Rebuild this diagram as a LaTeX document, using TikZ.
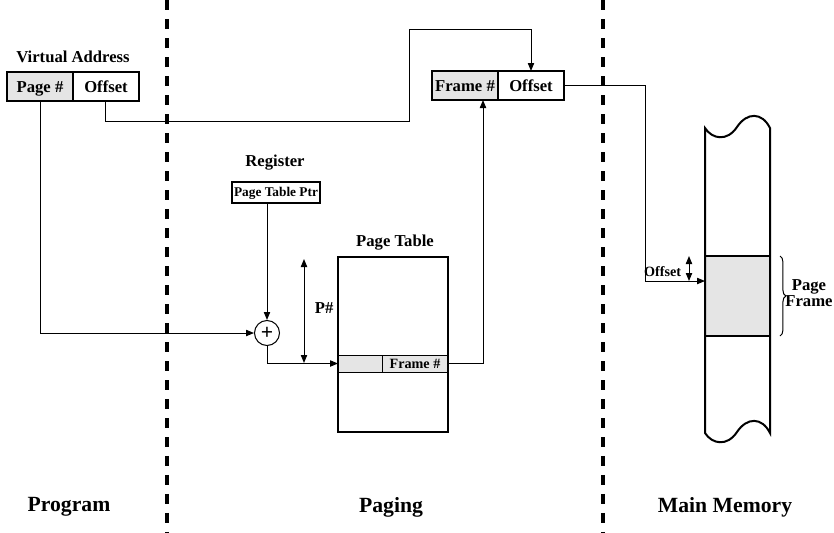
\documentclass[tikz,border=0pt]{standalone}
\usepackage{fontspec}
\setmainfont{Liberation Serif}
\usetikzlibrary{arrows.meta,positioning,decorations.pathreplacing}

\begin{document}
\begin{tikzpicture}[x=0.6pt,y=-0.6pt,
      font=\bfseries\fontsize{10}{12}\selectfont,
      cell/.style={draw, line width=0.8pt, minimum width=39.6pt, minimum height=17.4pt, inner sep=0pt, outer sep=0pt, text height=6.6pt, text depth=0pt},
      link/.style={line width=0.6pt, -{Triangle[length=4.8pt,width=3.8pt]}},
      both/.style={line width=0.6pt, {Triangle[length=4.8pt,width=3.8pt]}-{Triangle[length=4.8pt,width=3.8pt]}},
      divider/.style={line width=2.4pt, dash pattern=on 6pt off 5.4pt},
      small/.style={font=\bfseries\fontsize{8.5}{10}\selectfont},
      big/.style={font=\bfseries\fontsize{13}{15}\selectfont}]
      \useasboundingbox (0,0) rectangle (834,533);
      \draw[divider] (167,0) -- (167,533);
      \draw[divider] (603,0) -- (603,533);
      \node (vaddr) at (73,57) {Virtual Address};
      \node[cell, fill=gray!20] (vpage) at (40,86.5) {Page \#};
      \node[cell, right=0pt of vpage] (voff) {Offset};
      \node[cell, fill=gray!20] (fnum) at (465,85.5) {Frame \#};
      \node[cell, right=0pt of fnum] (foff) {Offset};
      \node (reglbl) at (275,163) {Register};
      \node[cell, font=\bfseries\fontsize{8}{10}\selectfont, text height=5.3pt, minimum width=52.8pt, minimum height=12.6pt] (reg) at (276,192.5) {Page Table Ptr};
      \node[draw, circle, line width=0.6pt, minimum size=15pt, inner sep=0pt, font=\bfseries\fontsize{13}{13}\selectfont] (plus) at (267,333) {+};
      \node[cell, fill=gray!20, line width=0.6pt, minimum width=26.4pt, minimum height=10.2pt] (rowl) at (360,363.5) {};
      \node[cell, small, text height=5.6pt, fill=gray!20, line width=0.6pt, minimum height=10.2pt, right=0pt of rowl] (rowr) {Frame \#};
      \node[draw, line width=1.2pt, minimum width=66pt, minimum height=105pt, inner sep=0pt, outer sep=0pt] (ptable) at (393,344.5) {};
      \node (ptlbl) at (395,243) {Page Table};
      \coordinate (ptop) at (304,259);
      \coordinate (pbot) at (304,363);
      \draw[both] (ptop) -- (pbot);
      \node[anchor=west] (plbl) at (309,308) {P\#};
      \node[draw, line width=1.2pt, fill=gray!20, minimum width=39pt, minimum height=48pt, inner sep=0pt, outer sep=0pt] (pframe) at (737.5,296) {};
      \draw[line width=1.2pt] (705,128) .. controls (712,139) and (727,142) .. (737,127) .. controls (747,112) and (762,112) .. (770,128) -- (770,433) .. controls (762,417) and (747,417) .. (737,432) .. controls (727,447) and (712,444) .. (705,433) -- cycle;
      \draw[decorate, decoration={brace, amplitude=3.5pt}, line width=0.6pt] (780,256) -- (780,336);
      \node[align=center, font=\bfseries\fontsize{10}{10}\selectfont] (pflbl) at (809,293) {Page\\Frame};
      \coordinate (otop) at (689,256);
      \coordinate (obot) at (689,281);
      \draw[both] (otop) -- (obot);
      \node[small, anchor=east] (moff) at (687,272) {Offset};
      \coordinate (bend) at (409,121);
      \coordinate (top) at (409,29);
      \coordinate (drop) at (645,281);
      \coordinate (memin) at (705,281);
      \draw[link] (vpage.south) |- (plus.west);
      \draw[link] (voff.south) |- (bend) -- (top) -| (foff.north);
      \draw[link] (plus.north |- reg.south) -- (plus.north);
      \draw[link] (plus.south) |- (rowl.west);
      \draw[link] (rowr.east) -| ([xshift=10.8pt]fnum.south);
      \draw[link] (foff.east) -| (drop) -- (memin);
      \node[big] (prog) at (69,507) {Program};
      \node[big] (paging) at (391,507) {Paging};
      \node[big] (mainmem) at (725,507) {Main Memory};
\end{tikzpicture}
\end{document}
